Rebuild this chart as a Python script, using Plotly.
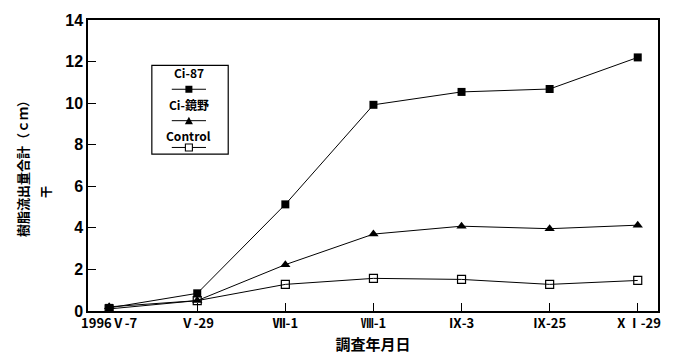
import plotly.graph_objects as go

categories = ["1996Ⅴ-7", "Ⅴ-29", "Ⅶ-1", "Ⅷ-1", "Ⅸ-3", "Ⅸ-25", "ⅩⅠ-29"]
ci87 = [0.15, 0.85, 5.13, 9.92, 10.54, 10.68, 12.2]
ci_kyono = [0.2, 0.5, 2.23, 3.7, 4.08, 3.96, 4.13]
control = [0.1, 0.5, 1.28, 1.57, 1.52, 1.28, 1.47]
series_names = ["Ci-87", "Ci-鏡野", "Control"]
y_ticks = [0, 2, 4, 6, 8, 10, 12, 14]

FONT = "Liberation Sans, Arial, Noto Sans CJK JP"
JFONT = "Noto Sans CJK JP, Liberation Sans"

x_idx = list(range(len(categories)))

fig = go.Figure()
fig.add_trace(go.Scatter(x=x_idx, y=ci87, mode="lines+markers", name=series_names[0],
                         line=dict(color="black", width=1),
                         marker=dict(symbol="square", size=8, color="black")))
fig.add_trace(go.Scatter(x=x_idx, y=ci_kyono, mode="lines+markers", name=series_names[1],
                         line=dict(color="black", width=1),
                         marker=dict(symbol="triangle-up", size=9, color="black")))
fig.add_trace(go.Scatter(x=x_idx, y=control, mode="lines+markers", name=series_names[2],
                         line=dict(color="black", width=1),
                         marker=dict(symbol="square-open", size=8, color="black",
                                     line=dict(width=1.2, color="black"))))

fig.update_layout(
    width=677, height=364,
    margin=dict(l=88, r=19, t=16, b=53),
    paper_bgcolor="white", plot_bgcolor="white",
    showlegend=False,
    xaxis=dict(
        range=[-0.24, 6.23],
        tickmode="array", tickvals=x_idx, ticktext=categories,
        ticks="inside", ticklen=8, tickcolor="black", tickwidth=1,
        showline=True, linecolor="black", linewidth=1.5, mirror=True,
        showgrid=False, zeroline=False,
        tickfont=dict(family=JFONT, size=13, color="black", weight="bold"),
        title=dict(text="調査年月日", font=dict(family=JFONT, size=15, color="black", weight="bold"),
                   standoff=8),
    ),
    yaxis=dict(
        range=[0, 14],
        tickmode="array", tickvals=y_ticks,
        ticks="inside", ticklen=8, tickcolor="black", tickwidth=1,
        showline=True, linecolor="black", linewidth=1.5, mirror=True,
        showgrid=False, zeroline=False,
        tickfont=dict(family=FONT, size=16, color="black", weight="bold"),
        title=dict(text="樹脂流出量合計（ｃｍ）", font=dict(family=JFONT, size=13, color="black", weight="bold"),
                   standoff=34),
    ),
)

# stray character beside the y-axis title
fig.add_annotation(text="干", xref="paper", yref="paper", x=-0.075, y=0.41,
                   xanchor="center", yanchor="middle",
                   showarrow=False, textangle=-90,
                   font=dict(family=JFONT, size=12, color="black", weight="bold"))

# custom legend box
fig.add_shape(type="rect", xref="paper", yref="paper", x0=0.112, x1=0.246, y0=0.539, y1=0.844,
              line=dict(color="black", width=1.2), fillcolor="white")
cx = 0.177
legend_rows = [
    (series_names[0], 0.820, 0.762, "square"),
    (series_names[1], 0.710, 0.654, "triangle"),
    (series_names[2], 0.604, 0.562, "open"),
]
for name, ty, sy, kind in legend_rows:
    fig.add_annotation(text=name, xref="paper", yref="paper", x=cx, y=ty, showarrow=False,
                       xanchor="center", yanchor="middle",
                       font=dict(family=JFONT, size=12, color="black", weight="bold"))
    fig.add_shape(type="line", xref="paper", yref="paper", x0=cx - 0.03, x1=cx + 0.03, y0=sy, y1=sy,
                  line=dict(color="black", width=1))
    common = dict(xref="paper", yref="paper", xsizemode="pixel", ysizemode="pixel",
                  xanchor=cx, yanchor=sy)
    if kind == "square":
        fig.add_shape(type="rect", x0=-3.5, x1=3.5, y0=-3.5, y1=3.5,
                      fillcolor="black", line=dict(color="black", width=0), **common)
    elif kind == "triangle":
        fig.add_shape(type="path", path="M -4,-3.5 L 4,-3.5 L 0,4 Z",
                      fillcolor="black", line=dict(color="black", width=0), **common)
    else:
        fig.add_shape(type="rect", x0=-3.5, x1=3.5, y0=-3.5, y1=3.5,
                      fillcolor="white", line=dict(color="black", width=1.1), **common)

fig.write_html("out.html")
